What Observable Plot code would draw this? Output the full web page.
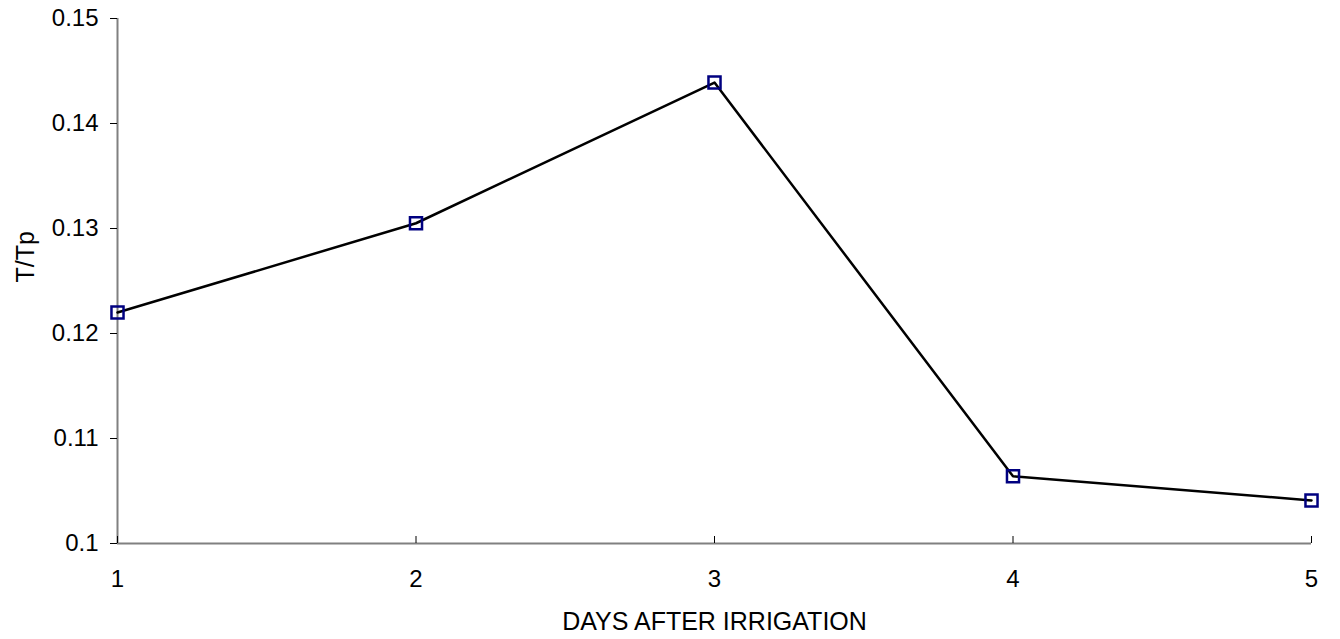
<!DOCTYPE html>
<html>
<head>
<meta charset="utf-8">
<script src="https://cdn.jsdelivr.net/npm/d3@7"></script>
<script src="https://cdn.jsdelivr.net/npm/@observablehq/plot@0.6"></script>
<style>
  html, body { margin: 0; padding: 0; background: #ffffff; }
  #chart { width: 1340px; height: 639px; }
</style>
</head>
<body>
<div id="chart"></div>
<script>
// Data
const days = [1, 2, 3, 4, 5];
const ratio = [0.1220, 0.1305, 0.1439, 0.1064, 0.1041];
const xTicks = [1, 2, 3, 4, 5];
const xTickLabels = ["1", "2", "3", "4", "5"];
const yTicks = [0.1, 0.11, 0.12, 0.13, 0.14, 0.15];
const yTickLabels = ["0.1", "0.11", "0.12", "0.13", "0.14", "0.15"];
const xTitle = "DAYS AFTER IRRIGATION";
const yTitle = "T/Tp";

const data = days.map((d, i) => ({day: d, value: ratio[i]}));

const chart = Plot.plot({
  width: 1340,
  height: 639,
  marginTop: 18,
  marginBottom: 96,
  marginLeft: 117,
  marginRight: 29,
  style: {fontFamily: "'Liberation Sans', Arial, sans-serif", fontSize: "24px", color: "#000", background: "#fff"},
  x: {domain: [1, 5]},
  y: {domain: [0.1, 0.15]},
  marks: [
    // axis lines
    Plot.ruleX([1], {stroke: "#808080", strokeWidth: 2}),
    Plot.ruleY([0.1], {stroke: "#808080", strokeWidth: 2}),
    // y axis: outside ticks + labels
    Plot.axisY({
      ticks: yTicks,
      tickSize: 7,
      tickPadding: 12,
      tickFormat: (d) => yTickLabels[yTicks.indexOf(d)],
      label: null,
      stroke: "#000",
      fill: "#000"
    }),
    // x axis: inside ticks
    Plot.axisX({
      ticks: xTicks,
      tickSize: 7,
      dy: -7,
      tickFormat: () => "",
      label: null,
      stroke: "#000"
    }),
    // x axis labels
    Plot.axisX({
      ticks: xTicks,
      tickSize: 0,
      tickPadding: 26,
      tickFormat: (d) => xTickLabels[xTicks.indexOf(d)],
      label: null,
      fill: "#000"
    }),
    // titles
    Plot.text([xTitle], {frameAnchor: "bottom", lineAnchor: "top", dy: 69, fill: "#000", fontSize: 25}),
    Plot.text([yTitle], {frameAnchor: "left", rotate: -90, dx: -92, dy: 1.5, fill: "#000", fontSize: 25}),
    // series
    Plot.line(data, {x: "day", y: "value", stroke: "#000", strokeWidth: 2.5}),
    Plot.dot(data, {x: "day", y: "value", symbol: "square", r: 6.8, stroke: "#000080", strokeWidth: 2.5, fill: "none"})
  ]
});

document.getElementById("chart").appendChild(chart);
</script>
</body>
</html>
